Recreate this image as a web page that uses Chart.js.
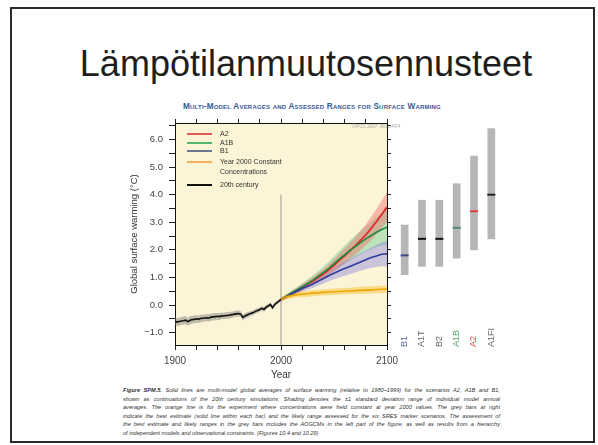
<!DOCTYPE html>
<html><head><meta charset="utf-8">
<script src="https://cdn.jsdelivr.net/npm/chart.js@4.4.1/dist/chart.umd.min.js"></script>
<style>
html,body{margin:0;padding:0;background:#fff;}
#slide{position:relative;width:598px;height:445px;overflow:hidden;font-family:"Liberation Sans",Arial,sans-serif;}
#frame{position:absolute;left:10px;top:7px;width:581px;height:432px;border:2px solid #2b2b2b;}
#title{position:absolute;left:7px;width:598px;top:42px;text-align:center;font-size:36px;line-height:44px;color:#1e1e1e;white-space:nowrap;}
#ctitle{position:absolute;left:0;width:624px;top:102px;text-align:center;font-size:8.2px;line-height:9px;color:#3a5896;font-weight:bold;font-variant:small-caps;letter-spacing:0.2px;white-space:nowrap;}
#main{position:absolute;left:120px;top:100px;}
#bars{position:absolute;left:380px;top:100px;}
.leg{position:absolute;font-size:7px;line-height:8px;color:#333;white-space:nowrap;}
.legline{position:absolute;width:25px;height:2px;}
#copy{position:absolute;left:352px;top:124px;font-size:4.5px;color:#aaa;white-space:nowrap;}
#caption{position:absolute;left:123px;top:386px;width:377px;font-size:5.6px;line-height:8.5px;color:#333;font-style:italic;}
#caption div{text-align:justify;text-align-last:justify;white-space:nowrap;}
#caption div.last{text-align-last:left;}
</style></head>
<body>
<div id="slide">
  <div id="frame"></div>
  <div id="title">Lämpötilanmuutosennusteet</div>
  <div id="ctitle">Multi-Model Averages and Assessed Ranges for Surface Warming</div>
  <canvas id="main" width="290" height="285"></canvas>
  <canvas id="bars" width="140" height="250"></canvas>
  <div id="legend"></div>
  <div id="copy">©IPCC 2007: WG1-AR4</div>
  <div id="caption">
    <div><b>Figure SPM.5.</b> Solid lines are multi-model global averages of surface warming (relative to 1980–1999) for the scenarios A2, A1B and B1,</div>
    <div>shown as continuations of the 20th century simulations. Shading denotes the ±1 standard deviation range of individual model annual</div>
    <div>averages. The orange line is for the experiment where concentrations were held constant at year 2000 values. The grey bars at right</div>
    <div>indicate the best estimate (solid line within each bar) and the likely range assessed for the six SRES marker scenarios. The assessment of</div>
    <div>the best estimate and likely ranges in the grey bars includes the AOGCMs in the left part of the figure, as well as results from a hierarchy</div>
    <div class="last">of independent models and observational constraints. {Figures 10.4 and 10.29}</div>
  </div>
</div>
<script>
// ---------- DATA ----------
const yearsHist = [1900,1902,1904,1906,1908,1910,1912,1914,1916,1918,1920,1922,1924,1926,1928,1930,1932,1934,1936,1938,1940,1942,1944,1946,1948,1950,1952,1954,1956,1958,1960,1962,1964,1966,1968,1970,1972,1974,1976,1978,1980,1982,1984,1986,1988,1990,1992,1994,1996,1998,2000];
const hist20 = [-0.58,-0.62,-0.60,-0.58,-0.57,-0.55,-0.60,-0.56,-0.53,-0.52,-0.50,-0.52,-0.49,-0.48,-0.47,-0.46,-0.47,-0.44,-0.43,-0.42,-0.41,-0.42,-0.39,-0.40,-0.38,-0.38,-0.36,-0.35,-0.33,-0.32,-0.31,-0.33,-0.45,-0.40,-0.36,-0.33,-0.30,-0.27,-0.23,-0.20,-0.16,-0.12,-0.16,-0.08,-0.03,0.02,-0.10,0.02,0.08,0.14,0.20];
const hist20Sd = [0.14,0.14,0.15,0.14,0.15,0.15,0.14,0.15,0.14,0.14,0.14,0.13,0.14,0.13,0.13,0.13,0.14,0.13,0.13,0.13,0.12,0.13,0.12,0.12,0.12,0.12,0.12,0.11,0.11,0.11,0.11,0.10,0.10,0.10,0.10,0.09,0.09,0.09,0.09,0.08,0.08,0.08,0.08,0.08,0.07,0.07,0.07,0.07,0.07,0.06,0.06];

const yearsProj = [2000,2005,2010,2015,2020,2025,2030,2035,2040,2045,2050,2055,2060,2065,2070,2075,2080,2085,2090,2095,2100];
const a2Mean  = [0.20,0.30,0.42,0.52,0.64,0.76,0.86,1.00,1.12,1.28,1.44,1.62,1.78,1.96,2.14,2.34,2.54,2.78,3.02,3.28,3.55];
const a2Sd    = [0.05,0.07,0.09,0.10,0.12,0.13,0.15,0.16,0.18,0.20,0.22,0.24,0.26,0.29,0.32,0.35,0.38,0.42,0.46,0.50,0.54];
const a1bMean = [0.20,0.32,0.44,0.55,0.66,0.78,0.90,1.04,1.18,1.33,1.50,1.66,1.82,1.98,2.12,2.26,2.40,2.52,2.64,2.74,2.82];
const a1bSd   = [0.05,0.07,0.09,0.11,0.13,0.15,0.17,0.19,0.22,0.25,0.28,0.31,0.34,0.37,0.40,0.43,0.46,0.50,0.54,0.58,0.62];
const b1Mean  = [0.20,0.30,0.40,0.50,0.60,0.68,0.76,0.86,0.96,1.06,1.15,1.24,1.32,1.40,1.48,1.56,1.64,1.72,1.78,1.84,1.86];
const b1Sd    = [0.05,0.07,0.08,0.10,0.11,0.13,0.14,0.16,0.18,0.20,0.22,0.24,0.26,0.28,0.30,0.32,0.34,0.37,0.40,0.43,0.46];
const constMean = [0.20,0.30,0.34,0.37,0.39,0.41,0.43,0.44,0.46,0.47,0.48,0.49,0.50,0.51,0.52,0.53,0.54,0.55,0.56,0.57,0.58];
const constSd   = [0.08,0.09,0.10,0.10,0.10,0.11,0.11,0.11,0.11,0.12,0.12,0.12,0.12,0.12,0.12,0.13,0.13,0.13,0.13,0.13,0.13];

const scenarioLabels = ['B1','A1T','B2','A1B','A2','A1FI'];
const likelyLow    = [1.1,1.4,1.4,1.7,2.0,2.4];
const likelyHigh   = [2.9,3.8,3.8,4.4,5.4,6.4];
const bestEstimate = [1.8,2.4,2.4,2.8,3.4,4.0];

const xTickLabels = [1900,2000,2100];
const yTickLabels = [-1,0,1,2,3,4,5,6];
const legendLabels = ['A2','A1B','B1','Year 2000 Constant\nConcentrations','20th century'];

// ---------- STYLE / LAYOUT ----------
const Y_MIN = -1.45, Y_MAX = 6.6, X_MIN = 1900, X_MAX = 2100;
const FONT = '"Liberation Sans", Arial, sans-serif';
const C = {
  a2:'#e02a2a', a1b:'#1e8a3c', b1:'#2c3b9c', cst:'#f0a400', hist:'#111111',
  a2Band:'rgba(242,110,110,0.45)', a1bBand:'rgba(90,200,140,0.40)', b1Band:'rgba(125,125,225,0.40)',
  cstBand:'rgba(245,195,60,0.50)', histBand:'rgba(120,120,120,0.45)'
};
const legendColors = ['#e25a55','#58b46a','#6d7690','#f3b15e','#111'];
const markColors = ['#3b4a8a','#111','#111','#4f8a6a','#e03c3c','#222'];
const labelColors = ['#5a68a8','#666','#666','#5aa572','#e04848','#666'];

const pts = (xs, ys) => xs.map((x,i)=>({x, y: ys[i]}));
const band = (xs, m, s, sign) => xs.map((x,i)=>({x, y: m[i] + sign*s[i]}));
const range = (a,b,s) => { const r=[]; for(let v=a; v<=b+1e-9; v+=s) r.push(Math.round(v*100)/100); return r; };

function bandPair(xs, m, s, color, ord){
  return [
    {data: band(xs,m,s,1), fill:'+1', backgroundColor:color, borderWidth:0, pointRadius:0, order:ord},
    {data: band(xs,m,s,-1), fill:false, borderWidth:0, pointRadius:0, order:ord}
  ];
}
function lineDs(xs, m, color, w){
  return {data: pts(xs,m), borderColor:color, borderWidth:w, pointRadius:0, fill:false, order:1, tension:0};
}

const bgPlugin = {id:'bg', beforeDraw(c){const {ctx, chartArea:a}=c; ctx.save(); ctx.fillStyle='#fcf4d6'; ctx.fillRect(a.left,a.top,a.right-a.left,a.bottom-a.top); ctx.restore();}};

const xTicks = range(X_MIN, X_MAX, 20);
const yTicks = range(-1, 6.5, 0.5);
const fmtY = v => (v<0?'−':'') + Math.abs(v).toFixed(1);

new Chart(document.getElementById('main'), {
  type:'line',
  data:{datasets:[
    {data:[{x:2000,y:Y_MIN},{x:2000,y:4.0}], borderColor:'#9a9a8a', borderWidth:1, pointRadius:0, fill:false, order:40},
    ...bandPair(yearsHist, hist20, hist20Sd, C.histBand, 30),
    ...bandPair(yearsProj, a1bMean, a1bSd, C.a1bBand, 29),
    ...bandPair(yearsProj, b1Mean, b1Sd, C.b1Band, 28),
    ...bandPair(yearsProj, a2Mean, a2Sd, C.a2Band, 27),
    ...bandPair(yearsProj, constMean, constSd, C.cstBand, 26),
    lineDs(yearsProj, constMean, C.cst, 1.6),
    lineDs(yearsProj, b1Mean, C.b1, 1.6),
    lineDs(yearsProj, a1bMean, C.a1b, 1.6),
    lineDs(yearsProj, a2Mean, C.a2, 1.8),
    lineDs(yearsHist, hist20, C.hist, 1.6)
  ]},
  options:{
    responsive:false, animation:false, devicePixelRatio:1,
    layout:{padding:0, autoPadding:false},
    plugins:{legend:{display:false}, tooltip:{enabled:false}},
    scales:{
      x:{type:'linear', position:'bottom', min:X_MIN, max:X_MAX,
         afterBuildTicks: ax => { ax.ticks = xTicks.map(v=>({value:v})); },
         ticks:{autoSkip:false, maxRotation:0, padding:5, color:'#444', font:{family:FONT,size:10},
                callback: v => xTickLabels.includes(v) ? String(v) : ''},
         grid:{drawOnChartArea:false, tickLength:5, color:'#222'},
         border:{color:'#111', width:1},
         title:{display:true, text:'Year', color:'#333', font:{family:FONT,size:10}, padding:{top:0,bottom:4}},
         afterFit: s => { s.height = 40; }},
      x2:{type:'linear', position:'top', min:X_MIN, max:X_MAX,
         afterBuildTicks: ax => { ax.ticks = xTicks.map(v=>({value:v})); },
         ticks:{autoSkip:false, callback:()=>'', font:{size:1}},
         grid:{drawOnChartArea:false, tickLength:4, color:'#222'},
         border:{color:'#111', width:1},
         afterFit: s => { s.height = 23; }},
      y:{type:'linear', position:'left', min:Y_MIN, max:Y_MAX,
         afterBuildTicks: ax => { ax.ticks = yTicks.map(v=>({value:v})); },
         ticks:{autoSkip:false, padding:6, color:'#444', font:{family:FONT,size:9.5},
                callback: v => yTickLabels.includes(v) ? fmtY(v) : ''},
         grid:{drawOnChartArea:false, tickLength:6, color:'#222'},
         border:{color:'#111', width:1},
         title:{display:true, text:'Global surface warming (°C)', color:'#333', font:{family:FONT,size:9.5}, padding:{top:9,bottom:0}},
         afterFit: s => { s.width = 55; }},
      y2:{type:'linear', position:'right', min:Y_MIN, max:Y_MAX,
         afterBuildTicks: ax => { ax.ticks = yTicks.map(v=>({value:v})); },
         ticks:{autoSkip:false, callback:()=>'', font:{size:1}},
         grid:{drawOnChartArea:false, tickLength:4, color:'#222'},
         border:{color:'#111', width:1},
         afterFit: s => { s.width = 23; }}
    }
  },
  plugins:[bgPlugin]
});

const barLabelPlugin = {id:'barLabels', afterDraw(c){
  const xs = c.scales.x, ctx = c.ctx;
  ctx.save();
  ctx.font = '9px ' + FONT;
  scenarioLabels.forEach((lab,i)=>{
    ctx.save();
    ctx.translate(xs.getPixelForValue(i), c.chartArea.bottom + 2);
    ctx.rotate(-Math.PI/2);
    ctx.textAlign='left'; ctx.textBaseline='middle';
    ctx.fillStyle = labelColors[i];
    ctx.fillText(lab, 0, 0);
    ctx.restore();
  });
  ctx.restore();
}};

new Chart(document.getElementById('bars'), {
  type:'bar',
  data:{labels:scenarioLabels, datasets:[
    {type:'line', data:bestEstimate, showLine:false, pointStyle:'line', pointRadius:4, pointBorderWidth:2,
     pointBorderColor:markColors, pointBackgroundColor:markColors, order:0},
    {data: scenarioLabels.map((_,i)=>[likelyLow[i], likelyHigh[i]]), backgroundColor:'#b6b6b6', borderWidth:0,
     barThickness:7, grouped:false, order:1}
  ]},
  options:{
    responsive:false, animation:false, devicePixelRatio:1,
    layout:{padding:{left:16,right:20,top:23,bottom:5}, autoPadding:false},
    plugins:{legend:{display:false}, tooltip:{enabled:false}},
    scales:{x:{display:false}, y:{display:false, min:Y_MIN, max:Y_MAX}}
  },
  plugins:[barLabelPlugin]
});

// legend (HTML, inside plot area)
const legRows = [134, 143, 151, 162, 185];
const leg = document.getElementById('legend');
legendLabels.forEach((t,i)=>{
  const ln = document.createElement('div');
  ln.className='legline'; ln.style.left='187px'; ln.style.top=(legRows[i]-1)+'px'; ln.style.background=legendColors[i];
  leg.appendChild(ln);
  const tx = document.createElement('div');
  tx.className='leg'; tx.style.left='220px'; tx.style.top=(legRows[i]-4)+'px';
  tx.innerHTML = t.replace('\n','<br>');
  if (t.includes('\n')) { tx.style.lineHeight='10px'; tx.style.top=(legRows[i]-5)+'px'; }
  leg.appendChild(tx);
});
</script>
</body></html>
